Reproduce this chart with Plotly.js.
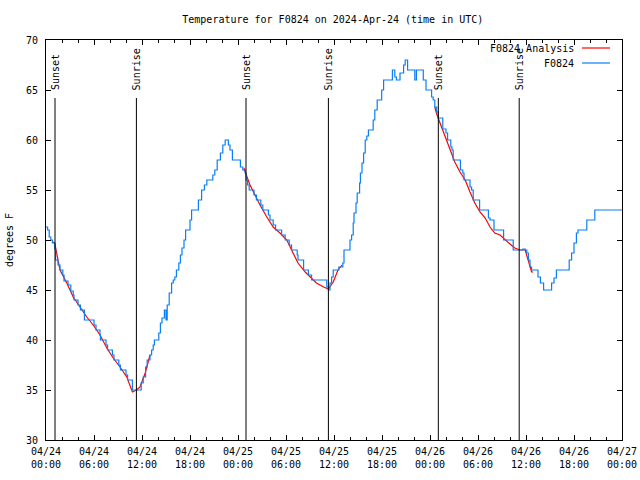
<!DOCTYPE html>
<html>
<head>
<meta charset="utf-8">
<script src="https://cdn.plot.ly/plotly-3.0.1.min.js"></script>
<style>html,body{margin:0;padding:0;background:#fff;}#chart{width:640px;height:480px;}</style>
</head>
<body>
<div id="chart"></div>
<script>
// Hours after 2024-04-24 00:00 UTC
const startUTC = Date.UTC(2024, 3, 24, 0, 0, 0);

// Observed station temperature (F0824), step changes
const obsHour = [0, 0.2, 0.4, 0.6, 0.8, 1.1, 1.2, 1.5, 1.75, 2.1, 2.25, 2.75, 3.1, 3.4, 3.5, 4.0, 4.3, 4.8, 6.0, 6.25,
  6.75, 6.8, 7.5, 7.7, 8.3, 8.5, 9.1, 9.3, 10.0, 10.2, 10.8, 11.9, 12.15, 12.45, 12.65, 13.0, 13.2, 13.4, 13.55, 14.1,
  14.3, 14.5, 14.8, 15.0, 15.15, 15.4, 15.7, 15.9, 16.1, 16.3, 16.6, 16.8, 17.0, 17.25, 17.45, 18.0, 18.2, 19.05, 19.45, 19.8,
  20.1, 20.85, 21.1, 21.4, 21.8, 22.1, 22.4, 22.8, 23.0, 23.3, 24.3, 24.6, 24.9, 25.0, 25.2, 25.4, 26.0, 26.3, 26.85, 27.1,
  27.8, 28.0, 28.4, 28.7, 29.45, 29.9, 30.4, 30.7, 31.4, 31.5, 32.2, 32.8, 33.2, 35.1, 35.3, 35.5, 35.7, 35.9, 36.6, 37.1,
  37.25, 38.0, 38.2, 38.4, 38.5, 38.75, 38.9, 39.2, 39.3, 39.5, 39.7, 39.9, 40.1, 40.3, 40.9, 41.1, 41.4, 41.96, 42.2, 43.3,
  43.6, 43.8, 44.25, 44.7, 44.9, 45.2, 46.1, 46.3, 47.16, 47.5, 48.2, 48.4, 48.6, 48.84, 49.04, 49.6, 50.0, 50.2, 50.6, 50.75,
  50.9, 51.8, 52.1, 52.25, 53.0, 53.2, 53.4, 54.2, 55.3, 55.5, 56.0, 57.2, 58.4, 59.6, 59.9, 60.1, 60.3, 60.5, 60.7, 61.5,
  61.8, 62.2, 63.2, 63.5, 63.8, 65.4, 65.7, 66.0, 66.3, 66.5, 67.6, 68.6, 72.0];
const obsTemp = [51.3, 51, 50.3, 50, 49.7, 49.1, 48, 47.5, 47, 46.5, 45.9, 45.5, 44.9, 44.5, 44, 43.5, 43, 42, 41.5, 41,
  40.5, 40, 39.5, 39, 38.5, 38, 37.5, 37, 36.5, 36, 35, 35.7, 36.3, 37.3, 38, 38.5, 39, 39.5, 40, 40.7,
  41.7, 42.2, 43, 42, 43.5, 44.7, 45.7, 46, 46.3, 47, 47.7, 48.5, 49.2, 50, 51, 52, 53, 54, 55, 55.5,
  56, 56.5, 57, 58, 58.7, 59.5, 60, 59.5, 59, 58, 57.3, 57, 56.7, 56, 55.5, 55, 54.5, 54, 53.5, 53,
  52.5, 52, 51.5, 51, 50.5, 50, 49.5, 49, 48.5, 48, 47, 46.5, 46, 45.3, 45, 45.7, 46.3, 47, 47.3, 47.7,
  49, 50, 50.5, 51.7, 52.7, 53.7, 54.7, 55.7, 56.7, 57.7, 58.7, 60, 60.4, 61, 62, 63, 64, 65, 66, 67,
  66.3, 66, 66.7, 67.5, 68, 67, 66, 67, 66, 65, 64.3, 64, 63.3, 62.8, 62.2, 61.1, 60.7, 60, 59.3, 59,
  58, 57, 56.7, 56, 55.3, 55, 54, 53, 52.2, 52, 51, 50, 49, 49.1, 49, 48.7, 48, 47.3, 47, 46.3,
  45.7, 45, 45.7, 46.2, 47, 48, 48.7, 49.7, 50.7, 51, 52, 53, 53];

// Analysis (nighttime segments, null = gap)
const anaHour = [0.9, 1.1, 1.33, 1.75, 2.6, 3.4, 4.25, 5.1, 5.9, 6.75, 7.6, 8.4, 9.25, 10.1, 10.8, 11.3, 11.75, 12.4, 13.0, null,
  24.75, 24.9, 25.5, 26.1, 26.75, 27.6, 28.4, 29.25, 30.1, 30.7, 31.5, 32.4, 33.2, 33.8, 34.7, 35.3, 35.9, 36.5, 37.0, null,
  48.6, 48.8, 49.25, 49.9, 50.5, 51.1, 51.75, 52.4, 53.0, 53.6, 54.25, 54.9, 55.5, 56.1, 56.75, 57.4, 58.0, 58.6, 59.25, 59.9,
  60.3, 60.7, 60.9];
const anaTemp = [49.8, 49.7, 48.7, 47.0, 45.7, 44.3, 43.3, 42.3, 41.5, 40.5, 39.2, 38.2, 37.3, 36.3, 34.8, 35.0, 35.3, 36.7, 38.5, null,
  57.2, 56.8, 55.5, 54.5, 53.5, 52.3, 51.3, 50.7, 50.0, 49.0, 47.7, 46.8, 46.2, 45.7, 45.3, 45.1, 45.8, 47.0, 47.5, null,
  63.3, 62.7, 61.7, 60.3, 59.0, 57.8, 56.8, 56.0, 54.8, 53.7, 52.8, 52.2, 51.3, 50.7, 50.5, 50.0, 49.6, 49.2, 49.0, 49.0,
  48.0, 46.8, 46.8];

// Sun events
const sunHour = [1.125, 11.3, 25.0, 35.3, 49.04, 59.15];
const sunLabel = ['Sunset', 'Sunrise', 'Sunset', 'Sunrise', 'Sunset', 'Sunrise'];

const seriesNames = ['F0824 Analysis', 'F0824'];
const seriesColors = ['#ff0000', '#0a7ff5'];

const toT = h => (h === null ? null : startUTC + h * 3600000);
const mono = 'DejaVu Sans Mono, Liberation Mono, monospace';

const traces = [
  { x: anaHour.map(toT), y: anaTemp, type: 'scatter', mode: 'lines', name: seriesNames[0],
    line: { color: seriesColors[0], width: 1.2 }, connectgaps: false, showlegend: false },
  { x: obsHour.map(toT), y: obsTemp, type: 'scatter', mode: 'lines', name: seriesNames[1],
    line: { color: seriesColors[1], width: 1.2, shape: 'hv' }, showlegend: false }
];

const shapes = sunHour.map(h => ({
  type: 'line', xref: 'x', yref: 'y', x0: toT(h), x1: toT(h), y0: 30, y1: 64.2,
  line: { color: '#000', width: 1 }, layer: 'above'
}));
const annotations = sunHour.map((h, i) => ({
  x: toT(h), y: 64.8, xref: 'x', yref: 'y', text: sunLabel[i], textangle: -90,
  xanchor: 'center', yanchor: 'bottom', showarrow: false,
  font: { family: mono, size: 10, color: '#000' }
}));

// custom gnuplot-style legend (text left of sample line)
const legY = [0.98, 0.9425];
seriesNames.forEach((n, i) => {
  annotations.push({ x: 0.92, y: legY[i], xref: 'paper', yref: 'paper', text: n, xanchor: 'right',
    yanchor: 'middle', showarrow: false, font: { family: mono, size: 10, color: '#000' } });
  shapes.push({ type: 'line', xref: 'paper', yref: 'paper', x0: 0.9306, x1: 0.9792, y0: legY[i], y1: legY[i],
    line: { color: seriesColors[i], width: 1.2 } });
});

const layout = {
  width: 640, height: 480,
  margin: { l: 46, r: 18, t: 40, b: 40, pad: 0 },
  paper_bgcolor: '#fff', plot_bgcolor: '#fff',
  showlegend: false,
  title: { text: 'Temperature for F0824 on 2024-Apr-24 (time in UTC)', font: { family: mono, size: 10, color: '#000' },
    x: 0.52, xanchor: 'center', y: 0.96, yanchor: 'middle', yref: 'container' },
  xaxis: {
    type: 'date', range: [toT(0), toT(72)], tick0: toT(0), dtick: 6 * 3600000, tickformat: '%m/%d<br>%H:%M',
    ticks: 'inside', ticklen: 5, tickcolor: '#000', tickwidth: 1, ticklabelstandoff: 2,
    minor: { dtick: 2 * 3600000, ticks: 'inside', ticklen: 3, tickcolor: '#000', showgrid: false },
    showline: true, linecolor: '#000', linewidth: 1, mirror: 'allticks',
    showgrid: false, zeroline: false,
    tickfont: { family: mono, size: 10, color: '#000' }
  },
  yaxis: {
    range: [30, 70], tick0: 30, dtick: 5,
    ticks: 'inside', ticklen: 5, tickcolor: '#000', tickwidth: 1, ticklabelstandoff: 5,
    showline: true, linecolor: '#000', linewidth: 1, mirror: 'allticks',
    showgrid: false, zeroline: false,
    tickfont: { family: mono, size: 10, color: '#000' },
    title: { text: 'degrees F', font: { family: mono, size: 10, color: '#000' }, standoff: 10 }
  },
  shapes: shapes,
  annotations: annotations
};

Plotly.newPlot('chart', traces, layout, { staticPlot: true, displayModeBar: false });
</script>
</body>
</html>
